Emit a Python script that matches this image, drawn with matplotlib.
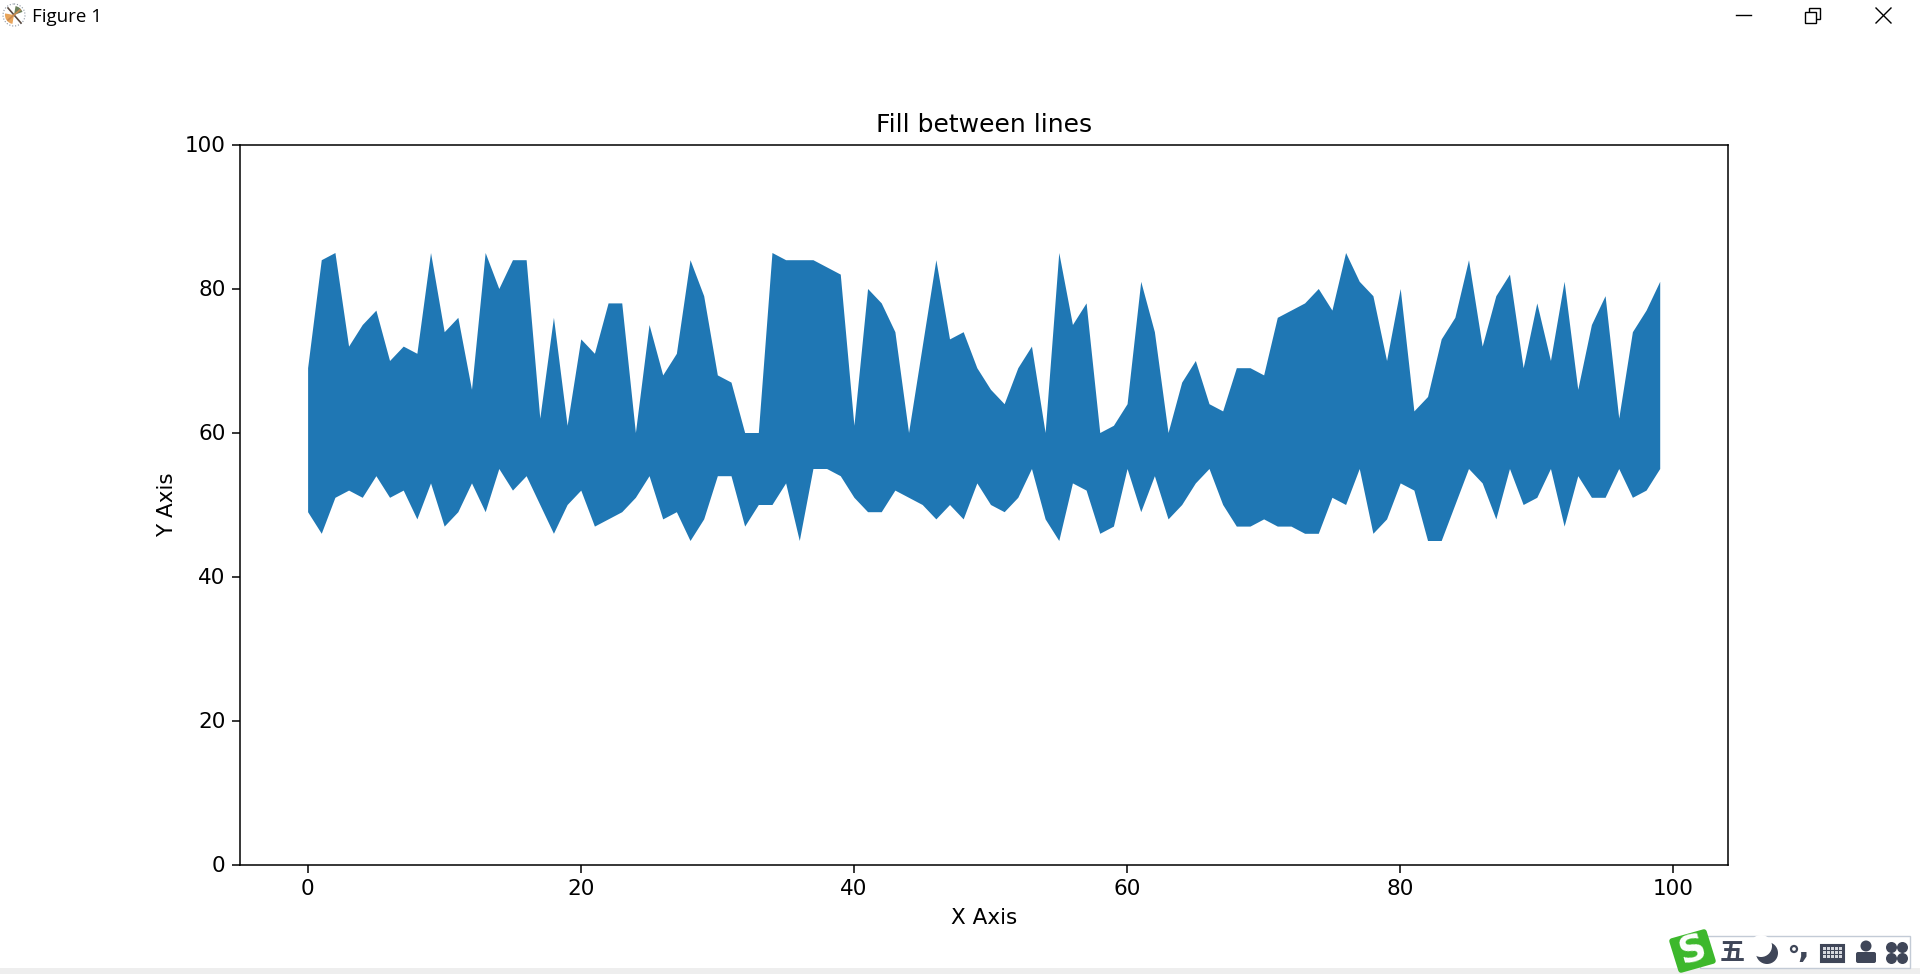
import numpy as np
import matplotlib
matplotlib.use('Agg')
import matplotlib.pyplot as plt
from matplotlib.patches import Circle, Rectangle, Polygon, Wedge, FancyBboxPatch

# ---------------- DATA ---------------- #

x_values = np.arange(100)

upper = [69, 84, 85, 72, 75, 77, 70, 72, 71, 85,
         74, 76, 66, 85, 80, 84, 84, 62, 76, 61,
         73, 71, 78, 78, 60, 75, 68, 71, 84, 79,
         68, 67, 60, 60, 85, 84, 84, 84, 83, 82,
         61, 80, 78, 74, 60, 72, 84, 73, 74, 69,
         66, 64, 69, 72, 60, 85, 75, 78, 60, 61,
         64, 81, 74, 60, 67, 70, 64, 63, 69, 69,
         68, 76, 77, 78, 80, 77, 85, 81, 79, 70,
         80, 63, 65, 73, 76, 84, 72, 79, 82, 69,
         78, 70, 81, 66, 75, 79, 62, 74, 77, 81]

lower = [49, 46, 51, 52, 51, 54, 51, 52, 48, 53,
         47, 49, 53, 49, 55, 52, 54, 50, 46, 50,
         52, 47, 48, 49, 51, 54, 48, 49, 45, 48,
         54, 54, 47, 50, 50, 53, 45, 55, 55, 54,
         51, 49, 49, 52, 51, 50, 48, 50, 48, 53,
         50, 49, 51, 55, 48, 45, 53, 52, 46, 47,
         55, 49, 54, 48, 50, 53, 55, 50, 47, 47,
         48, 47, 47, 46, 46, 51, 50, 55, 46, 48,
         53, 52, 45, 45, 50, 55, 53, 48, 55, 50,
         51, 55, 47, 54, 51, 51, 55, 51, 52, 55]

W, H = 1920, 974
INK = '#3f4658'

# ---------------- CHART ---------------- #

fig = plt.figure(figsize=(W / 100, H / 100), dpi=100)
ax = fig.add_axes([240 / W, 1 - 864.5 / H, 1488 / W, 720 / H])
ax.fill_between(x_values, lower, upper, color='#1f77b4', linewidth=0)
ax.set_ylim(0, 100)
ax.set_xlim(-4.95, 104)
ax.set_title('Fill between lines', fontsize=18, pad=9)
ax.set_xlabel('X Axis', fontsize=15.5, labelpad=6.5)
ax.set_ylabel('Y Axis', fontsize=15.5, labelpad=5.5)
ax.tick_params(labelsize=15.5, length=5.5, width=1.1, pad=5)
for spine in ax.spines.values():
    spine.set_linewidth(1.1)

# ---------------- WINDOW CHROME ---------------- #

ui = fig.add_axes([0, 0, 1, 1], facecolor='none', zorder=5)
ui.set_xlim(0, W)
ui.set_ylim(H, 0)
ui.axis('off')

# title bar
ui.add_patch(Circle((14, 15), 11, fc='white', ec='#8a94a0', lw=0.8, ls=':'))
ui.add_patch(Wedge((14, 15), 9, 100, 190, fc='#e8a55c', lw=0))
ui.add_patch(Wedge((14, 15), 9, 280, 340, fc='#6b7f5a', lw=0))
ui.plot([8, 21], [8, 23], color='#5a4a40', lw=1.2)
ui.plot([8, 20], [20, 10], color='#c98a50', lw=1.2)
ui.text(32, 17, 'Figure 1', family='Open Sans', fontsize=13.5, va='center', ha='left')
ui.plot([1736, 1751], [15, 15], color='black', lw=1)
ui.add_patch(Rectangle((1809, 8), 11, 11, fc='white', ec='black', lw=1))
ui.add_patch(Rectangle((1805, 12), 11, 11, fc='white', ec='black', lw=1))
ui.plot([1876, 1891], [8, 23], color='black', lw=1)
ui.plot([1876, 1891], [23, 8], color='black', lw=1)

# bottom strip of the desktop
ui.add_patch(Rectangle((0, 968), W, 6, fc='#eeeeee', lw=0))

# input method bar
ui.add_patch(Rectangle((1700, 936), 210, 32, fc='white', ec='#c3cbd6', lw=1))
ui.add_patch(Polygon([(1672, 941), (1704, 932), (1713, 961), (1681, 970)], fc='#3db82c', ec='#3db82c', lw=4, joinstyle='round'))
ui.text(1692, 951, 'S', color='white', fontsize=27, fontweight='bold', rotation=16, ha='center', va='center')
ui.text(1732, 953, '五', family='Noto Sans CJK SC', color=INK, fontsize=18, fontweight='bold', ha='center', va='center')
ui.add_patch(Circle((1767, 953), 11, fc=INK, lw=0))
ui.add_patch(Circle((1761, 946), 11, fc='white', lw=0))
ui.add_patch(Circle((1794, 949), 3, fc='white', ec=INK, lw=1.6))
ui.text(1803, 950, ',', color=INK, fontsize=22, fontweight='bold', ha='center', va='center')
ui.add_patch(Rectangle((1821, 945), 23, 17, fc=INK, ec=INK, lw=1.5))
for row in range(3):
    for col in range(5):
        ui.add_patch(Rectangle((1823 + col * 4, 947 + row * 4), 2.8, 2.8, fc='#d5d8de', lw=0))
ui.add_patch(Circle((1866, 946), 5.5, fc=INK, lw=0))
ui.add_patch(FancyBboxPatch((1858, 954), 16, 7, boxstyle='round,pad=2', fc=INK, lw=0))
for dx, dy in [(-5.5, -5.5), (5.5, -5.5), (-5.5, 5.5), (5.5, 5.5)]:
    ui.add_patch(Circle((1897 + dx, 953 + dy), 5.5, fc=INK, lw=0))

fig.savefig('out.png', dpi=100)
